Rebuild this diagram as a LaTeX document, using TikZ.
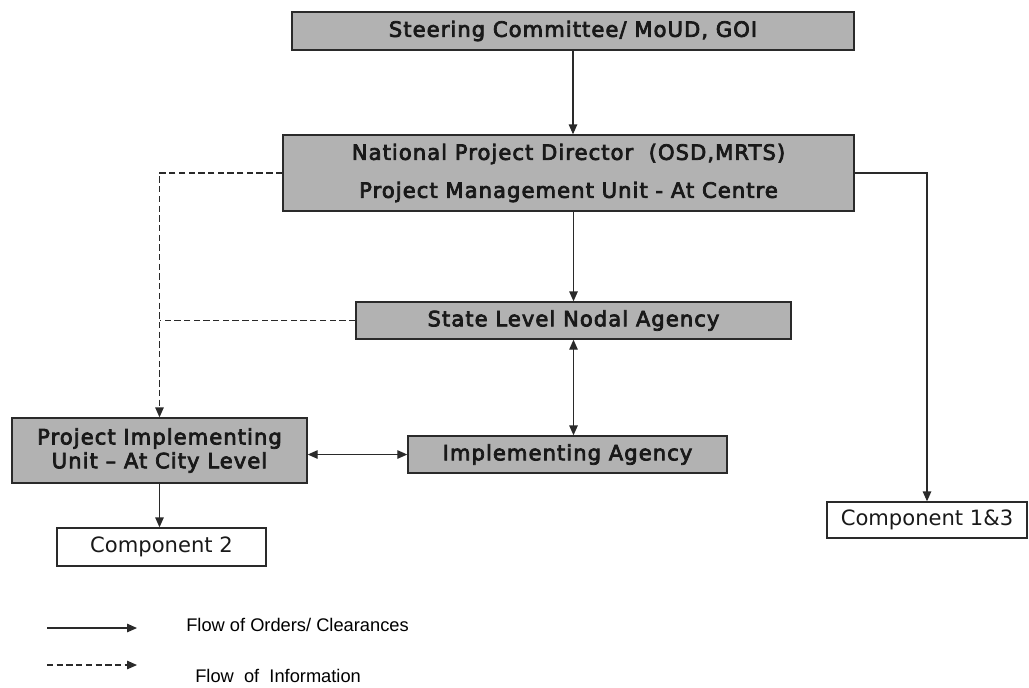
\documentclass[tikz,border=0pt]{standalone}
\usepackage{fontspec}
\setmainfont{DejaVu Sans}
\newfontfamily\unitfont{DejaVu Sans}[FakeBold=3.5, LetterSpace=5]
\newfontfamily\legendfont{Liberation Sans}
\usetikzlibrary{positioning,arrows.meta}
\definecolor{unitGris}{HTML}{B2B2B2}
\definecolor{lineaOscura}{HTML}{2A2A2A}

\begin{document}
\begin{tikzpicture}[
        x=0.025cm, y=-0.025cm,
        >=Triangle,
        box/.style={draw=lineaOscura, line width=1pt, inner sep=0pt, align=center, text=black!90},
        unit/.style={box, fill=unitGris, font=\unitfont\fontsize{15}{18}\selectfont},
        comp/.style={box, fill=white, font=\fontsize{15}{18}\selectfont},
        arr/.style={-{Triangle[length=7pt, width=6pt]}, line width=0.8pt, draw=lineaOscura},
        arrboth/.style={arr, {Triangle[length=7pt, width=6pt]}-{Triangle[length=7pt, width=6pt]}},
        info/.style={arr, dash pattern=on 4.5pt off 2.4pt},
        infoline/.style={line width=0.8pt, draw=lineaOscura, dash pattern=on 4.5pt off 2.4pt},
        lbl/.style={font=\legendfont\fontsize{13}{15}\selectfont, anchor=west, inner sep=0pt}
    ]
        \useasboundingbox (0,0) rectangle (1029,687);

        % Niveles centrales
        \node[unit, minimum width=14.05cm, minimum height=0.95cm] (steer) at (573, 31) {Steering Committee/ MoUD, GOI};
        \node[unit, minimum width=14.275cm, minimum height=1.9cm] (npd) at (568.5, 173) {National Project Director\ \ (OSD,MRTS)\\[9pt]Project Management Unit - At Centre};
        \node[unit, minimum width=10.875cm, minimum height=0.925cm] (slna) at (573.5, 320.5) {State Level Nodal Agency};
        \node[unit, minimum width=7.975cm, minimum height=0.925cm] (ia) at (567.5, 454.5) {Implementing Agency};
        \node[unit, minimum width=7.375cm, minimum height=1.625cm] (piu) at (159.5, 450.5) {Project Implementing\\[-1pt]Unit \textendash{} At City Level};

        % Componentes
        \node[comp, minimum width=5.225cm, minimum height=0.95cm] (comp2) at (161.5, 547) {Component 2};
        \node[comp, minimum width=5.0cm, minimum height=0.9cm] (comp13) at (927, 520) {Component 1\&3};

        % Flujo de ordenes
        \draw[arr] (steer.south) -- (steer.south |- npd.north);
        \draw[arr] (slna.north |- npd.south) -- (slna.north);
        \draw[arrboth] (slna.south) -- (slna.south |- ia.north);
        \draw[arrboth] (ia.west -| piu.east) -- (ia.west);
        \draw[arr] (piu.south) -- (piu.south |- comp2.north);
        \draw[arr] (npd.east) -| (comp13.north);

        % Flujo de informacion
        \draw[info] (npd.west) -| (piu.north);
        \draw[infoline] (slna.west) -- (slna.west -| piu.north);

        % Leyenda
        \coordinate (ordA) at (47, 628);
        \coordinate (ordB) at (137, 628);
        \coordinate (infA) at (47, 665);
        \coordinate (infB) at (137, 665);
        \draw[arr] (ordA) -- (ordB);
        \draw[info] (infA) -- (infB);
        \node[lbl] (lblOrd) at (186, 625) {Flow of Orders/ Clearances};
        \node[lbl] (lblInf) at (195, 676) {Flow\ \ of\ \ Information};
    \end{tikzpicture}
\end{document}
